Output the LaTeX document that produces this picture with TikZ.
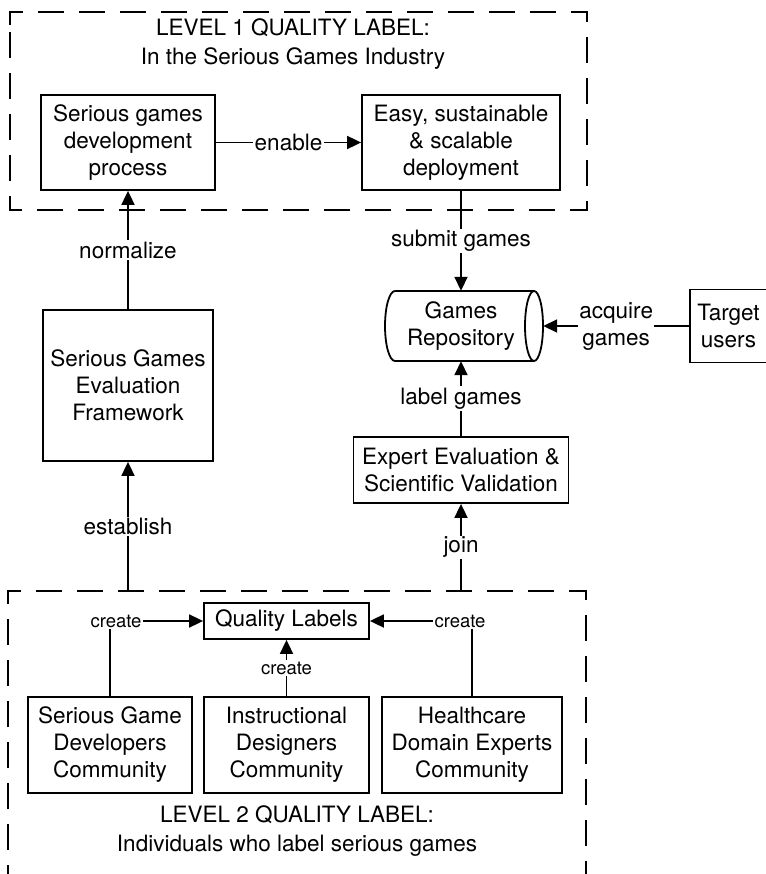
\documentclass[tikz,border=0pt]{standalone}
\usepackage{fontspec}
\setmainfont{TeX Gyre Heros}
\usetikzlibrary{arrows.meta}
\newcommand\bigfnt{\fontsize{22.5}{27}\selectfont}
\newcommand\titlefnt{\fontsize{22.5}{28.5}\selectfont}
\newcommand\smfnt{\fontsize{18.5}{22}\selectfont}
\begin{document}
\begin{tikzpicture}[x=1pt,y=1pt,
  sbox/.style={draw, line width=1.8pt, inner sep=0pt, align=center, font=\bigfnt},
  lbl/.style={fill=white, inner sep=1.5pt, font=\bigfnt},
  slbl/.style={fill=white, inner sep=1.5pt, font=\smfnt},
  arr/.style={line width=1.8pt, -{Triangle[length=14pt,width=13pt]}},
  dashbox/.style={line width=1.8pt, dash pattern=on 26pt off 15pt}]
\useasboundingbox (0,0) rectangle (765,-874);

% dashed group frames
\draw[dashbox] (10,-25) -- (10,-12) -- (587,-12) -- (587,-210) -- (10,-210) -- cycle;
\draw[dashbox, dash phase=11pt] (8,-880) -- (8,-591) -- (586,-591) -- (586,-880);

% titles
\node[align=center, font=\titlefnt] (t1) at (293,-44) {LEVEL 1 QUALITY LABEL:\\In the Serious Games Industry};
\node[align=center, font=\titlefnt] (t2) at (297,-831) {LEVEL 2 QUALITY LABEL:\\Individuals who label serious games};

% boxes
\node[sbox, minimum width=174, minimum height=95] (dev) at (128,-142.5) {Serious games\\development\\process};
\node[sbox, minimum width=198, minimum height=95] (dep) at (461,-142.5) {Easy, sustainable\\\& scalable\\deployment};
\node[sbox, minimum width=170, minimum height=151] (sgef) at (128,-385.5) {Serious Games\\Evaluation\\Framework};
\node[inner sep=0pt, minimum width=164, minimum height=70, align=center, font=\bigfnt] (repo) at (461,-326) {Games\\Repository};
\node[sbox, minimum width=77, minimum height=73] (tgt) at (728.5,-326) {Target\\users};
\node[sbox, minimum width=215, minimum height=66] (exp) at (461,-470) {Expert Evaluation \&\\Scientific Validation};
\node[sbox, minimum width=165, minimum height=36] (ql) at (286.5,-621) {Quality Labels};
\node[sbox, minimum width=164, minimum height=96] (sgd) at (110,-745) {Serious Game\\Developers\\Community};
\node[sbox, minimum width=165, minimum height=96] (idc) at (286.5,-745) {Instructional\\Designers\\Community};
\node[sbox, minimum width=180, minimum height=96] (hde) at (472,-745) {Healthcare\\Domain Experts\\Community};

% repository cylinder outline
\draw[line width=1.8pt] (395,-291) -- (534,-291)
  arc[start angle=90, end angle=-90, x radius=9, y radius=35]
  -- (395,-361)
  arc[start angle=270, end angle=90, x radius=10, y radius=35];
\draw[line width=1.8pt] (534,-291) arc[start angle=90, end angle=270, x radius=9, y radius=35];

% free ends on the lower frame
\coordinate (est) at (128,-591);
\coordinate (jn) at (461,-591);

% connectors
\draw[arr] (dev) -- node[lbl]{enable} (dep);
\draw[arr] (sgef) -- node[lbl]{normalize} (dev);
\draw[arr] (est) -- node[lbl]{establish} (sgef);
\draw[arr] (dep) -- node[lbl]{submit games} (repo);
\draw[arr] (exp) -- node[lbl]{label games} (repo);
\draw[arr] (jn) -- node[lbl]{join} (exp);
\draw[arr] (tgt) -- node[lbl, align=center]{acquire\\games} (repo);
\draw[arr] (sgd.north) |- node[slbl, pos=0.5, xshift=6pt]{create} (ql.west);
\draw[arr] (hde.north) |- node[slbl, pos=0.5, xshift=-12pt]{create} (ql.east);
\draw[arr] (idc) -- node[slbl]{create} (ql);
\end{tikzpicture}
\end{document}
